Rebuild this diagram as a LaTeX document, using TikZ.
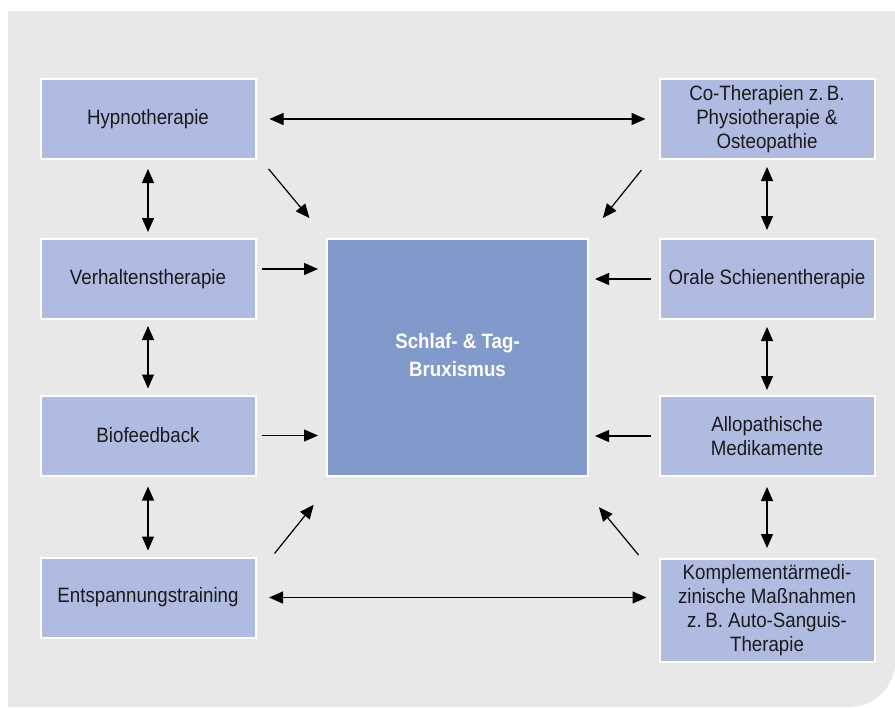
\documentclass[tikz,border=0pt]{standalone}
\usepackage{fontspec}
\setmainfont{Liberation Sans}[FakeStretch=0.9]
\usetikzlibrary{arrows.meta,calc}
\definecolor{bggray}{HTML}{E8E8E8}
\definecolor{boxfill}{HTML}{AFBBE1}
\definecolor{centerfill}{HTML}{8299CB}
\definecolor{txt}{HTML}{1A1A1A}
\tikzset{
  sidebox/.style={draw=white, line width=1.5pt, fill=boxfill, inner sep=0pt,
    minimum width=161.25pt, minimum height=60pt, align=center, text=txt,
    font=\fontsize{15.6pt}{18pt}\selectfont},
  mainbox/.style={draw=white, line width=1.5pt, fill=centerfill, inner sep=0pt,
    minimum width=195.75pt, minimum height=177.75pt, align=center, text=white,
    font=\fontsize{15.6pt}{20pt}\selectfont\bfseries},
  arr/.style={-{Triangle[length=10.5pt,width=9pt]}, line width=0.9pt, black},
  darr/.style={{Triangle[length=10.5pt,width=9pt]}-{Triangle[length=10.5pt,width=9pt]}, line width=0.9pt, black},
}
\begin{document}
\begin{tikzpicture}[x=0.75pt,y=-0.75pt]
\useasboundingbox (0,0) rectangle (895,707);
\fill[white] (0,0) rectangle (895,707);
\fill[bggray] (8,11) -- (895,11) -- (895,600) [rounded corners=34pt] -- (895,707) -- (700,707) [sharp corners] -- (8,707) -- cycle;

\node[mainbox] (center) at (457.5,357.5) {\raisebox{11pt}{\begin{tabular}{@{}c@{}}Schlaf- \& Tag-\\[1pt]Bruxismus\end{tabular}}};

\node[sidebox] (hyp) at (148,119) {Hypnotherapie};
\node[sidebox] (verh) at (148,279) {Verhaltenstherapie};
\node[sidebox] (bio) at (148,435.5) {Biofeedback};
\node[sidebox] (ent) at (148,597.5) {Entspannungstraining};

\node[sidebox] (co) at (767,119) {Co-Therapien z.\,B.\\Physiotherapie \&\\Osteopathie};
\node[sidebox] (orale) at (767,279) {Orale Schienentherapie};
\node[sidebox] (allo) at (767,436) {Allopathische\\Medikamente};
\node[sidebox, minimum height=77.25pt] (komp) at (767,610.5) {Komplementärmedi-\\zinische Maßnahmen\\z.\,B. Auto-Sanguis-\\Therapie};

% horizontal double arrows
\draw[darr, shorten <=9.75pt, shorten >=9.75pt] (hyp.east) -- (co.west);
\draw[darr, shorten <=9.4pt, shorten >=9pt] (ent.east) -- (ent.east -| komp.west);

% vertical double arrows left
\draw[darr, shorten <=6.75pt, shorten >=4.5pt] (hyp.south) -- (verh.north);
\draw[darr, shorten <=4.5pt, shorten >=4.5pt] (verh.south) -- (bio.north);
\draw[darr, shorten <=7.5pt, shorten >=4.5pt] (bio.south) -- (ent.north);

% vertical double arrows right
\draw[darr, shorten <=5.25pt, shorten >=6pt] (co.south) -- (orale.north);
\draw[darr, shorten <=5.25pt, shorten >=3.75pt] (orale.south) -- (allo.north);
\draw[darr, shorten <=7.5pt, shorten >=7.5pt] (allo.south) -- (komp.north);

% horizontal arrows into center
\draw[arr, shorten <=4.1pt, shorten >=6pt] ([yshift=7.5pt]verh.east) -- ([yshift=7.5pt]verh.east -| center.west);
\draw[arr, shorten <=4.1pt, shorten >=6pt] (bio.east) -- (bio.east -| center.west);
\draw[arr, shorten <=6pt, shorten >=4.5pt] (orale.west) -- (orale.west -| center.east);
\draw[arr, shorten <=6pt, shorten >=4.5pt] (allo.west) -- (allo.west -| center.east);

% diagonal arrows
\draw[arr, shorten <=8.7pt, shorten >=19.4pt] ([xshift=3.5pt]hyp.south east) -- (center.north west);
\draw[arr, shorten <=9.7pt, shorten >=19.3pt] ([xshift=-6.7pt]co.south west) -- ([xshift=-1.7pt]center.north east);
\draw[arr, shorten <=2.9pt, shorten >=26.7pt] ([xshift=11.7pt]ent.north east) -- ([xshift=7.5pt]center.south west);
\draw[arr, shorten <=2.9pt, shorten >=29.3pt] ([xshift=-13.1pt]komp.north west) -- ([xshift=-11.25pt]center.south east);
\end{tikzpicture}
\end{document}
